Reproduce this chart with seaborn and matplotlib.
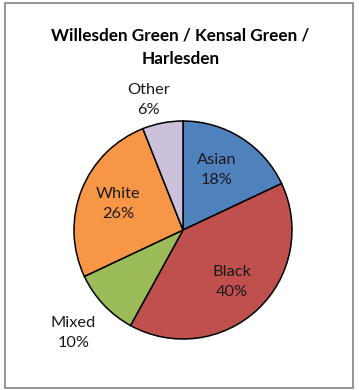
import numpy as np
import matplotlib
matplotlib.use("Agg")
import matplotlib.pyplot as plt
from matplotlib.patches import Rectangle
import seaborn as sns

# Ethnic composition (percent)
categories = ["Asian", "Black", "Mixed", "White", "Other"]
shares = [18, 40, 10, 26, 6]
title = "Willesden Green / Kensal Green /\nHarlesden"

sns.set_theme(style="white")
plt.rcParams["font.family"] = ["Lato", "DejaVu Sans"]

colors = ["#4F81BD", "#C0504D", "#9BBB59", "#F79646", "#CCC1DA"]
# radial distance and angular nudge (degrees) for each label
label_dist = [0.63, 0.65, 1.38, 0.64, 1.23]
label_nudge = [3, 0, 0, 0, 4]

W, H = 359, 390
fig = plt.figure(figsize=(W / 100, H / 100), dpi=100)
fig.patch.set_facecolor("white")

# pie centre and radius in pixels; axes spans whole figure with equal scale
cx, cy, R = 183, 230, 109
ax = fig.add_axes([0, 0, 1, 1])
wedges, _ = ax.pie(shares, colors=colors, startangle=90, counterclock=False,
                   wedgeprops=dict(edgecolor="black", linewidth=1.1))
ax.set_xlim(-cx / R, (W - cx) / R)
ax.set_ylim(-(H - cy) / R, cy / R)
ax.set_aspect("equal")
ax.axis("off")

for w, name, val, d, nd in zip(wedges, categories, shares, label_dist, label_nudge):
    mid = np.deg2rad((w.theta1 + w.theta2) / 2 + nd)
    ax.text(d * np.cos(mid), d * np.sin(mid), f"{name}\n{val}%",
            ha="center", va="center", fontsize=11.8, color="#1a1a1a",
            linespacing=1.55)

fig.text(0.503, (H - 47) / H, title, ha="center", va="center",
         fontsize=12.3, fontweight="bold", color="black", linespacing=1.55)

# outer chart frame
fig.add_artist(Rectangle((5 / W, 2 / H), (353 - 5) / W, (387 - 2) / H,
                         transform=fig.transFigure, fill=False,
                         edgecolor="#8c8c8c", linewidth=1.3))

fig.savefig("out.png", dpi=100)
